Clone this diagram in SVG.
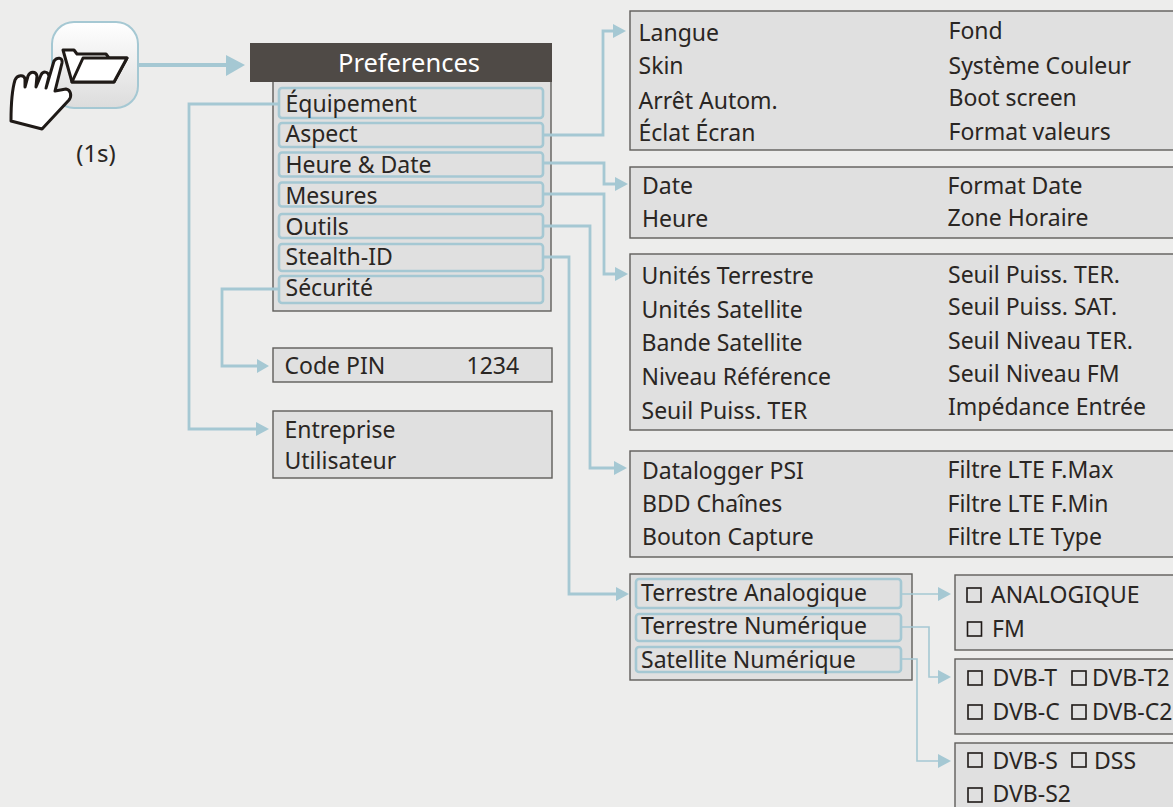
<svg xmlns="http://www.w3.org/2000/svg" width="1173" height="807" viewBox="0 0 1173 807">
<style>
text{font-family:"Noto Sans","Open Sans",sans-serif;font-size:23px;fill:#2a2623}
.box{fill:#e0e0e0;stroke:#5f5d5a;stroke-width:1.4}
.item{fill:#e0e0e0;stroke:#a5c8d3;stroke-width:2.6}
.c{fill:none;stroke:#a5c8d3;stroke-width:2.8}
.cb{fill:none;stroke:#a5c8d3;stroke-width:1.6}
.ah{fill:#a5c8d3}
.ck{fill:none;stroke:#1f1a17;stroke-width:1.6}
.h{fill:#fff;stroke:#1f1a17;stroke-width:3;stroke-linejoin:round}
</style>
<defs>
<linearGradient id="g" x1="0" y1="0" x2="0" y2="1"><stop offset="0" stop-color="#fff"/><stop offset="1" stop-color="#dcdcdc"/></linearGradient>
</defs>
<rect width="1173" height="807" fill="#ededec"/>
<g id="node-icon">
<rect x="52" y="22" width="86" height="86" rx="22" fill="url(#g)" stroke="#a5c8d3" stroke-width="2"/>
<path class="h" d="M63 50H74L77 54H106L109 58H127L114 82H72Z"/>
<path class="h" d="M83 58H127L114 82H72Z"/>
<path class="h" d="M54 61C57 57 63 57 62 63L55 91L66 89C71 90 72 96 69 100L42 129L11 121C11 107 12 90 15 80C17 75 24 74 25 79L25 87L28 76C30 71 36 71 37 76L36 87L41 75C43 71 48 71 49 76L46 88Z"/>
<text x="96" y="162" text-anchor="middle" style="font-size:24px">(1s)</text>
</g>
<g id="node-preferences">
<rect class="box" x="273" y="80" width="278" height="231"/>
<rect x="250" y="43" width="302" height="39" fill="#4f4a46"/>
<text x="409" y="72" text-anchor="middle" style="fill:#fff;font-size:25.500px">Preferences</text>
<rect class="item" x="279" y="88" width="264" height="30" rx="3"/>
<rect class="item" x="279" y="123" width="264" height="24" rx="3"/>
<rect class="item" x="279" y="152.500" width="264" height="24" rx="3"/>
<rect class="item" x="279" y="182.500" width="264" height="24" rx="3"/>
<rect class="item" x="279" y="214" width="264" height="24" rx="3"/>
<rect class="item" x="279" y="244" width="264" height="27" rx="3"/>
<rect class="item" x="279" y="276" width="264" height="27" rx="3"/>
<text x="285.500" y="112">Équipement</text>
<text x="285.500" y="142">Aspect</text>
<text x="285.500" y="173">Heure &amp; Date</text>
<text x="285.500" y="204">Mesures</text>
<text x="285.500" y="235">Outils</text>
<text x="285.500" y="265">Stealth-ID</text>
<text x="285.500" y="296">Sécurité</text>
</g>
<g id="node-pin">
<rect class="box" x="273" y="348" width="279" height="34"/>
<text x="284.500" y="374">Code PIN</text><text x="466.500" y="374">1234</text>
</g>
<g id="node-entreprise">
<rect class="box" x="273" y="411" width="279" height="67"/>
<text x="284.500" y="438">Entreprise</text><text x="284.500" y="469">Utilisateur</text>
</g>
<g id="node-aspect">
<rect class="box" x="630" y="11" width="544" height="139"/>
<text x="638.500" y="41">Langue</text><text x="638.500" y="74">Skin</text><text x="638.500" y="109">Arrêt Autom.</text><text x="638.500" y="141">Éclat Écran</text>
<text x="948.500" y="39">Fond</text><text x="948.500" y="74">Système Couleur</text><text x="948.500" y="106">Boot screen</text><text x="948.500" y="140">Format valeurs</text>
</g>
<g id="node-date">
<rect class="box" x="630" y="167" width="544" height="71"/>
<text x="642" y="194">Date</text><text x="642" y="227">Heure</text>
<text x="947.500" y="194">Format Date</text><text x="947.500" y="226">Zone Horaire</text>
</g>
<g id="node-mesures">
<rect class="box" x="630" y="254" width="544" height="176"/>
<text x="641.500" y="284">Unités Terrestre</text><text x="641.500" y="318">Unités Satellite</text><text x="641.500" y="351">Bande Satellite</text><text x="641.500" y="385">Niveau Référence</text><text x="641.500" y="419">Seuil Puiss. TER</text>
<text x="948" y="283">Seuil Puiss. TER.</text><text x="948" y="315">Seuil Puiss. SAT.</text><text x="948" y="349">Seuil Niveau TER.</text><text x="948" y="382">Seuil Niveau FM</text><text x="948" y="415">Impédance Entrée</text>
</g>
<g id="node-outils">
<rect class="box" x="630" y="451" width="544" height="106"/>
<text x="642" y="479">Datalogger PSI</text><text x="642" y="512">BDD Chaînes</text><text x="642" y="545">Bouton Capture</text>
<text x="947.500" y="478">Filtre LTE F.Max</text><text x="947.500" y="512">Filtre LTE F.Min</text><text x="947.500" y="545">Filtre LTE Type</text>
</g>
<g id="node-stealth">
<rect class="box" x="630" y="574" width="282" height="106"/>
<rect class="item" x="636" y="579" width="265" height="29" rx="3"/>
<rect class="item" x="636" y="614" width="265" height="27" rx="3"/>
<rect class="item" x="636" y="647" width="265" height="25" rx="3"/>
<text x="641" y="601">Terrestre Analogique</text><text x="641" y="634">Terrestre Numérique</text><text x="641" y="668">Satellite Numérique</text>
</g>
<g id="node-analog">
<rect class="box" x="955" y="575" width="219" height="75"/>
<rect class="ck" x="967" y="588" width="14" height="14"/><rect class="ck" x="967.500" y="622" width="14" height="14"/>
<text x="991" y="603">ANALOGIQUE</text><text x="992" y="637">FM</text>
</g>
<g id="node-dvbt">
<rect class="box" x="955" y="659" width="219" height="75"/>
<rect class="ck" x="968" y="671" width="14" height="14"/><rect class="ck" x="1072" y="671" width="14" height="14"/>
<rect class="ck" x="968" y="705" width="14" height="14"/><rect class="ck" x="1072" y="705" width="14" height="14"/>
<text x="992.500" y="686">DVB-T</text><text x="1092" y="686">DVB-T2</text><text x="992.500" y="720">DVB-C</text><text x="1092" y="720">DVB-C2</text>
</g>
<g id="node-dvbs">
<rect class="box" x="955" y="743" width="219" height="75"/>
<rect class="ck" x="968" y="753" width="14" height="14"/><rect class="ck" x="1072" y="753" width="14" height="14"/><rect class="ck" x="968" y="788" width="14" height="14"/>
<text x="992.500" y="769">DVB-S</text><text x="1094" y="769">DSS</text><text x="992.500" y="802">DVB-S2</text>
</g>
<g id="connectors">
<path class="c" style="stroke-width:4" d="M138 65H228"/><path class="ah" d="M226 55L245 65L226 76Z"/>
<path class="c" d="M279 104H189V429H258"/><path class="ah" d="M256 422L269 429L256 436Z"/>
<path class="c" d="M279 289H222V366H259"/><path class="ah" d="M257 359L269 366L257 373Z"/>
<path class="c" d="M543 135H603V31H615"/><path class="ah" d="M613 24L626 31L613 38Z"/>
<path class="c" d="M543 163H604V184H616"/><path class="ah" d="M615 177L628 184L615 191Z"/>
<path class="c" d="M543 194H604V274H616"/><path class="ah" d="M615 267L628 274L615 281Z"/>
<path class="c" d="M543 226H590V468H616"/><path class="ah" d="M614 461L627 468L614 475Z"/>
<path class="c" d="M543 257H569V594H618"/><path class="ah" d="M616 587L629 594L616 601Z"/>
<path class="cb" d="M901 594H940"/><path class="ah" d="M938 587L951 594L938 601Z"/>
<path class="cb" d="M901 627H929V677H940"/><path class="ah" d="M938 670L951 677L938 684Z"/>
<path class="cb" d="M901 659H917V761H940"/><path class="ah" d="M938 754L951 761L938 768Z"/>
</g>
</svg>
